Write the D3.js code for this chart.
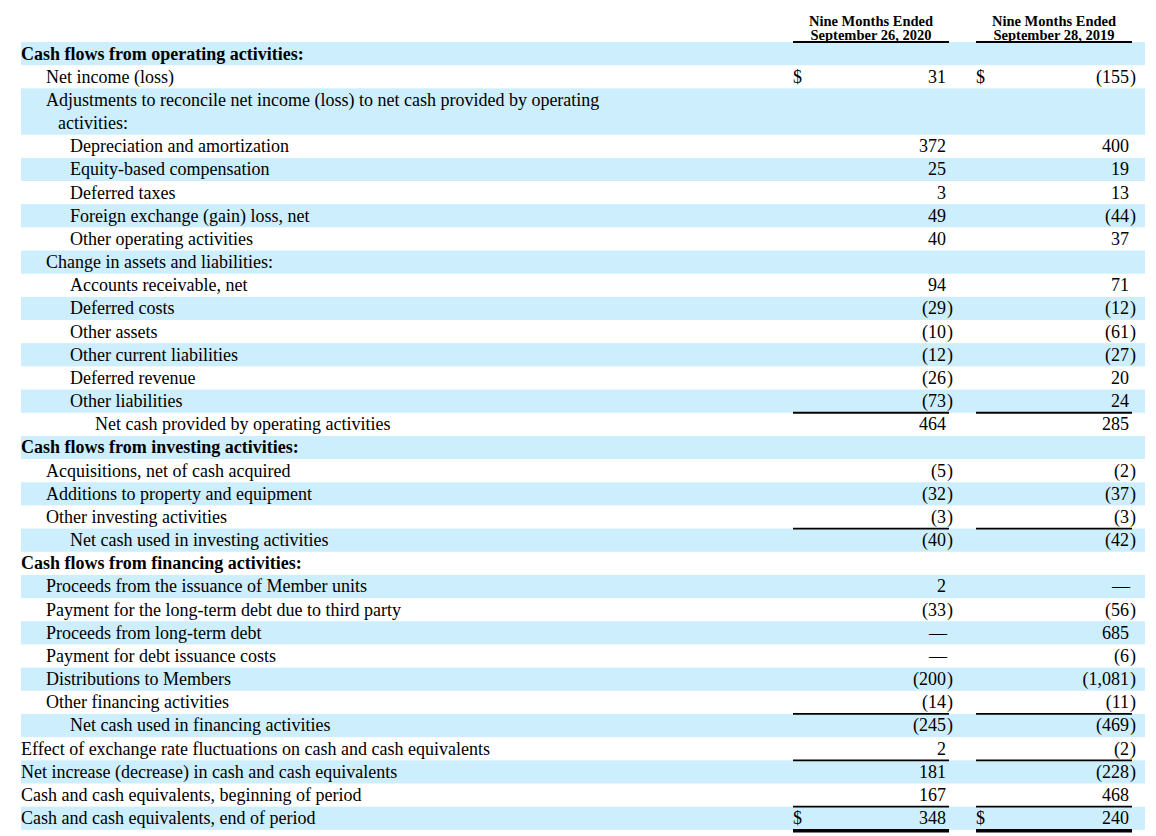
<!DOCTYPE html>
<html lang="en">
<head>
    <meta charset="UTF-8">
    <title>Cash flow statement</title>
    <script src="https://d3js.org/d3.v7.js"></script>
    <style>
        body { margin: 0; background: #fff; }
        text { font-family: "Liberation Serif", "Times New Roman", serif; fill: #000; }
    </style>
</head>
<body>
    <svg></svg>
    <script>
        const width = 1156;
        const height = 836;

        // row labels (\n = wrapped second line)
        const rowLabels = [
            "Cash flows from operating activities:",
            "Net income (loss)",
            "Adjustments to reconcile net income (loss) to net cash provided by operating\nactivities:",
            "Depreciation and amortization",
            "Equity-based compensation",
            "Deferred taxes",
            "Foreign exchange (gain) loss, net",
            "Other operating activities",
            "Change in assets and liabilities:",
            "Accounts receivable, net",
            "Deferred costs",
            "Other assets",
            "Other current liabilities",
            "Deferred revenue",
            "Other liabilities",
            "Net cash provided by operating activities",
            "Cash flows from investing activities:",
            "Acquisitions, net of cash acquired",
            "Additions to property and equipment",
            "Other investing activities",
            "Net cash used in investing activities",
            "Cash flows from financing activities:",
            "Proceeds from the issuance of Member units",
            "Payment for the long-term debt due to third party",
            "Proceeds from long-term debt",
            "Payment for debt issuance costs",
            "Distributions to Members",
            "Other financing activities",
            "Net cash used in financing activities",
            "Effect of exchange rate fluctuations on cash and cash equivalents",
            "Net increase (decrease) in cash and cash equivalents",
            "Cash and cash equivalents, beginning of period",
            "Cash and cash equivalents, end of period"
        ];
        const rowIndent = [0, 1, 1, 2, 2, 2, 2, 2, 1, 2, 2, 2, 2, 2, 2, 3, 0, 1, 1, 1, 2, 0, 1, 1, 1, 1, 1, 1, 2, 0, 0, 0, 0];
        const boldRows = [0, 16, 21];
        const values2020 = [null, 31, null, 372, 25, 3, 49, 40, null, 94, -29, -10, -12, -26, -73, 464, null, -5, -32, -3, -40, null, 2, -33, 0, 0, -200, -14, -245, 2, 181, 167, 348];
        const values2019 = [null, -155, null, 400, 19, 13, -44, 37, null, 71, -12, -61, -27, 20, 24, 285, null, -2, -37, -3, -42, null, 0, -56, 685, -6, -1081, -11, -469, -2, -228, 468, 240];
        const dollarRows = [1, 32];
        const ruleAboveRows = [15, 20, 28, 30, 32];
        const columnHeaders = [
            ["Nine Months Ended", "September 26, 2020"],
            ["Nine Months Ended", "September 28, 2019"]
        ];

        const svg = d3.select("svg").attr("width", width).attr("height", height);

        // cumulative row positions in "row units"
        const units = rowLabels.map(l => l.split("\n").length);
        const starts = [];
        units.reduce((acc, u, i) => { starts[i] = acc; return acc + u; }, 0);
        const totalUnits = d3.sum(units);

        const y = d3.scaleLinear().domain([0, totalUnits]).range([42, 829.8]);
        const indentX = d3.scaleOrdinal().domain([0, 1, 2, 3]).range([21, 46, 70, 95]);
        const cols = [
            { left: 793, right: 949, num: 946, values: values2020 },
            { left: 976, right: 1132, num: 1129, values: values2019 }
        ];
        const fontSize = 18;
        const baseOff = 17.5;

        // stripes
        svg.append("g").selectAll("rect")
            .data(rowLabels.map((_, i) => i).filter(i => i % 2 === 0))
            .join("rect")
            .attr("x", 21)
            .attr("width", 1145 - 21)
            .attr("y", i => y(starts[i]))
            .attr("height", i => y(starts[i] + units[i]) - y(starts[i]))
            .attr("fill", "#cdeefc");

        // column headers
        const head = svg.append("g");
        cols.forEach((c, ci) => {
            const cx = (c.left + c.right) / 2;
            head.append("text")
                .attr("x", cx).attr("y", 25.5)
                .attr("text-anchor", "middle")
                .attr("font-weight", "bold")
                .attr("font-size", 14.5)
                .text(columnHeaders[ci][0]);
            head.append("text")
                .attr("x", cx).attr("y", 39.5)
                .attr("text-anchor", "middle")
                .attr("font-weight", "bold")
                .attr("font-size", 14.5)
                .text(columnHeaders[ci][1]);
            head.append("line")
                .attr("x1", c.left).attr("x2", c.right)
                .attr("y1", 42).attr("y2", 42)
                .attr("stroke", "#000").attr("stroke-width", 1.8);
        });

        // labels
        const labels = svg.append("g");
        rowLabels.forEach((label, i) => {
            const lines = label.split("\n");
            lines.forEach((ln, k) => {
                labels.append("text")
                    .attr("x", indentX(rowIndent[i]) + (k > 0 ? 12 : 0))
                    .attr("y", y(starts[i] + k) + baseOff)
                    .attr("font-size", fontSize)
                    .attr("font-weight", boldRows.includes(i) ? "bold" : null)
                    .text(ln);
            });
        });

        // values
        const fmt = d3.format(",");
        const vals = svg.append("g");
        cols.forEach(c => {
            c.values.forEach((v, i) => {
                if (v === null) return;
                const by = y(starts[i]) + baseOff;
                if (dollarRows.includes(i)) {
                    vals.append("text")
                        .attr("x", c.left).attr("y", by)
                        .attr("font-size", fontSize)
                        .text("$");
                }
                if (v === 0) {
                    vals.append("text")
                        .attr("x", c.num + 1).attr("y", by)
                        .attr("text-anchor", "end")
                        .attr("font-size", fontSize)
                        .text("\u2014");
                } else if (v < 0) {
                    vals.append("text")
                        .attr("x", c.num).attr("y", by)
                        .attr("text-anchor", "end")
                        .attr("font-size", fontSize)
                        .text("(" + fmt(-v));
                    vals.append("text")
                        .attr("x", c.num + 1).attr("y", by)
                        .attr("font-size", fontSize)
                        .text(")");
                } else {
                    vals.append("text")
                        .attr("x", c.num).attr("y", by)
                        .attr("text-anchor", "end")
                        .attr("font-size", fontSize)
                        .text(fmt(v));
                }
            });

            // subtotal rules
            ruleAboveRows.forEach(r => {
                vals.append("line")
                    .attr("x1", c.left).attr("x2", c.right)
                    .attr("y1", y(starts[r])).attr("y2", y(starts[r]))
                    .attr("stroke", "#000").attr("stroke-width", 1.8);
            });
            // closing rule
            vals.append("line")
                .attr("x1", c.left).attr("x2", c.right)
                .attr("y1", y(totalUnits) + 1).attr("y2", y(totalUnits) + 1)
                .attr("stroke", "#000").attr("stroke-width", 3.5);
        });
    </script>
</body>
</html>
